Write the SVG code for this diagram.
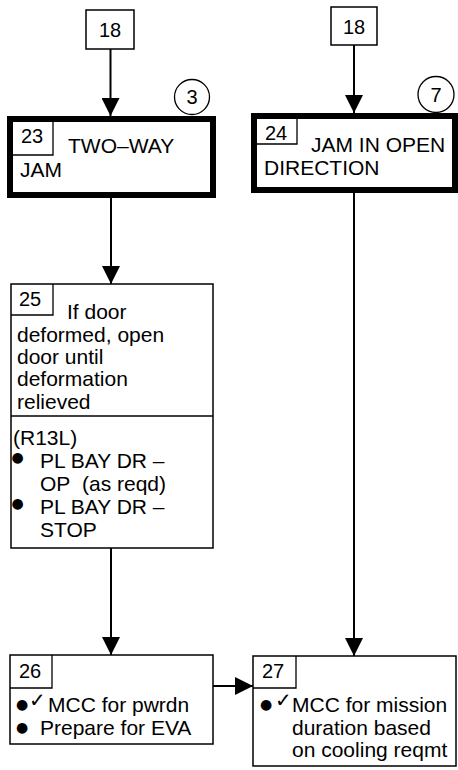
<svg xmlns="http://www.w3.org/2000/svg" width="458" height="770" viewBox="0 0 458 770">
<style>
text{font-family:"Liberation Sans",Arial,sans-serif;font-size:21px;fill:#000}
.num{font-size:20px}
.thin{fill:#fff;stroke:#000;stroke-width:1.5}
.thick{fill:#fff;stroke:#000;stroke-width:6}
.tab{fill:none;stroke:#000;stroke-width:1.3}
.circ{fill:#fff;stroke:#000;stroke-width:1.3}
.line{fill:none;stroke:#000;stroke-width:2}
.bul{font-family:"DejaVu Sans",sans-serif;font-size:14px;text-anchor:middle}
.chk{font-family:"DejaVu Sans",sans-serif;font-size:20px}
</style>
<defs>
<marker id="ah" markerUnits="userSpaceOnUse" markerWidth="18" markerHeight="18" viewBox="0 0 18 18" refX="18" refY="9" orient="auto">
<path d="M0,0 L18,9 L0,18 Z" fill="#000"/>
</marker>
</defs>
<g id="connectors">
<line class="line" x1="110.5" y1="49" x2="110.5" y2="116" marker-end="url(#ah)"/>
<line class="line" x1="354" y1="45" x2="354" y2="113" marker-end="url(#ah)"/>
<line class="line" x1="111" y1="198" x2="111" y2="284" marker-end="url(#ah)"/>
<line class="line" x1="111" y1="548" x2="111" y2="655" marker-end="url(#ah)"/>
<line class="line" x1="354" y1="193" x2="354" y2="656" marker-end="url(#ah)"/>
<line class="line" x1="213" y1="686" x2="253" y2="686" marker-end="url(#ah)"/>
</g>
<g id="n18a">
<rect class="thin" x="86" y="10" width="48" height="39"/>
<text class="num" x="110" y="37" text-anchor="middle">18</text>
</g>
<g id="n18b">
<rect class="thin" x="331" y="7" width="46" height="38"/>
<text class="num" x="354" y="34" text-anchor="middle">18</text>
</g>
<g id="n23">
<rect class="thick" x="10" y="119" width="203" height="76"/>
<path class="tab" d="M10,155 H53 V119"/>
<text class="num" x="21" y="143">23</text>
<text x="68" y="153">TWO–WAY</text>
<text x="20" y="177">JAM</text>
<circle class="circ" cx="192" cy="97" r="17.5"/>
<text class="num" x="192" y="104" text-anchor="middle">3</text>
</g>
<g id="n24">
<rect class="thick" x="254" y="116" width="201" height="74"/>
<path class="tab" d="M254,144 H297 V116"/>
<text class="num" x="265" y="140">24</text>
<text x="311" y="152">JAM IN OPEN</text>
<text x="264" y="175">DIRECTION</text>
<circle class="circ" cx="436" cy="94.5" r="18"/>
<text class="num" x="436" y="102" text-anchor="middle">7</text>
</g>
<g id="n25">
<rect class="thin" x="11" y="284" width="202" height="264"/>
<line class="thin" x1="11" y1="416" x2="213" y2="416"/>
<path class="tab" d="M11,315 H53 V284"/>
<text class="num" x="19" y="306">25</text>
<text x="67" y="319">If door</text>
<text x="17" y="342">deformed, open</text>
<text x="17" y="364">door until</text>
<text x="17" y="386">deformation</text>
<text x="17" y="409">relieved</text>
<text x="13" y="445">(R13L)</text>
<text class="bul" x="17.5" y="462">●</text>
<text x="40" y="468">PL BAY DR –</text>
<text x="40" y="491">OP</text>
<text x="82" y="491">(as reqd)</text>
<text class="bul" x="17.5" y="508">●</text>
<text x="40" y="514">PL BAY DR –</text>
<text x="40" y="537">STOP</text>
</g>
<g id="n26">
<rect class="thin" x="10" y="655" width="203" height="89"/>
<path class="tab" d="M10,688 H52 V655"/>
<text class="num" x="19" y="678">26</text>
<text class="bul" x="22" y="709">●</text>
<text class="chk" x="29" y="707">✓</text>
<text x="48" y="712">MCC for pwrdn</text>
<text class="bul" x="22" y="732">●</text>
<text x="40" y="735">Prepare for EVA</text>
</g>
<g id="n27">
<rect class="thin" x="253" y="656" width="203" height="110"/>
<path class="tab" d="M253,688 H296 V656"/>
<text class="num" x="262" y="678">27</text>
<text class="bul" x="266" y="709">●</text>
<text class="chk" x="275" y="707">✓</text>
<text x="292" y="712">MCC for mission</text>
<text x="292" y="735">duration based</text>
<text x="292" y="757">on cooling reqmt</text>
</g>
</svg>
